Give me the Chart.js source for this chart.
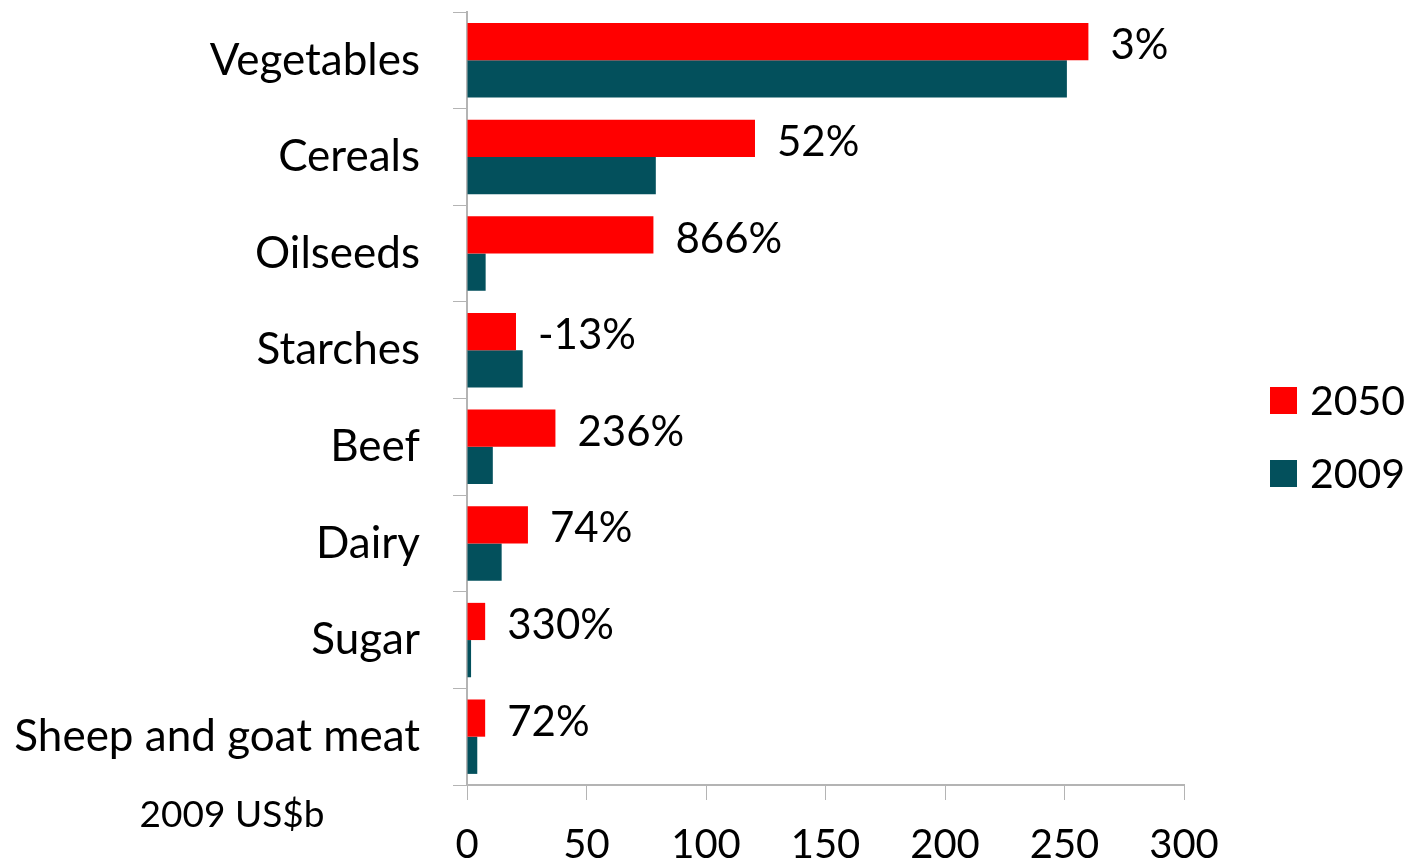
<!DOCTYPE html>
<html lang="en">
<head>
    <meta charset="UTF-8">
    <title>Food value 2009 vs 2050</title>
    <script src="https://cdn.jsdelivr.net/npm/chart.js"></script>
    <style>
        body { margin: 0; background: #fff; }
        .chart-box { width: 1410px; height: 865px; }
    </style>
</head>
<body>
    <div class="chart-box">
        <canvas id="foodChart" width="1410" height="865"></canvas>
    </div>
    <script>
        // data, US$ billions
        const categories = ['Vegetables', 'Cereals', 'Oilseeds', 'Starches', 'Beef', 'Dairy', 'Sugar', 'Sheep and goat meat'];
        const values2050 = [260, 120.5, 78, 20.5, 37, 25.5, 7.6, 7.6];
        const values2009 = [251, 79, 7.8, 23.3, 10.8, 14.5, 1.7, 4.3];
        const growthLabels = ['3%', '52%', '866%', '-13%', '236%', '74%', '330%', '72%'];
        const xTicks = [0, 50, 100, 150, 200, 250, 300];
        const unitNote = '2009 US$b';

        const FONT = 'Lato, "Open Sans", sans-serif';
        const RED = '#ff0000';
        const TEAL = '#03505c';
        const AXIS = '#b4b4b4';

        // percentage labels next to the 2050 bars + unit note + legend
        const extras = {
            id: 'extras',
            afterDatasetsDraw(chart) {
                const ctx = chart.ctx;
                const area = chart.chartArea;
                ctx.save();
                ctx.fillStyle = '#000';
                ctx.font = '42px ' + FONT;
                ctx.textAlign = 'left';
                ctx.textBaseline = 'middle';
                chart.getDatasetMeta(0).data.forEach((bar, i) => {
                    ctx.fillText(growthLabels[i], bar.x + 22, bar.y + 4);
                });

                ctx.font = '37px ' + FONT;
                ctx.textAlign = 'center';
                ctx.fillText(unitNote, area.left - 235, area.bottom + 30);

                // legend
                ctx.font = '41px ' + FONT;
                ctx.textAlign = 'left';
                const lx = area.right + 86;
                chart.data.datasets.forEach((ds, i) => {
                    const cy = 400 + i * 73;
                    ctx.fillStyle = ds.backgroundColor;
                    ctx.fillRect(lx, cy - 13, 27, 27);
                    ctx.fillStyle = '#000';
                    ctx.fillText(ds.label, lx + 40, cy + 2);
                });
                ctx.restore();
            }
        };

        new Chart(document.getElementById('foodChart'), {
            type: 'bar',
            data: {
                labels: categories,
                datasets: [
                    { label: '2050', data: values2050, backgroundColor: RED },
                    { label: '2009', data: values2009, backgroundColor: TEAL }
                ]
            },
            options: {
                indexAxis: 'y',
                responsive: false,
                animation: false,
                layout: { padding: { top: 12, right: 226, bottom: 0, left: 0 } },
                datasets: { bar: { categoryPercentage: 0.77, barPercentage: 1 } },
                plugins: {
                    legend: { display: false },
                    tooltip: { enabled: false }
                },
                scales: {
                    x: {
                        min: xTicks[0],
                        max: xTicks[xTicks.length - 1],
                        afterBuildTicks: s => { s.ticks = xTicks.map(v => ({ value: v })); },
                        afterFit: s => { s.height = 80; s.paddingLeft = 0; s.paddingRight = 0; },
                        grid: { drawOnChartArea: false, drawTicks: true, tickLength: 15, color: AXIS },
                        border: { color: AXIS, width: 2 },
                        ticks: { color: '#000', font: { family: FONT, size: 40 }, padding: 21, maxRotation: 0 }
                    },
                    y: {
                        afterFit: s => { s.width = 467; s.paddingTop = 0; s.paddingBottom = 0; },
                        grid: { drawOnChartArea: false, drawTicks: true, tickLength: 14, color: AXIS, offset: true },
                        border: { color: AXIS, width: 2 },
                        ticks: { color: '#000', font: { family: FONT, size: 44 }, padding: 33 }
                    }
                }
            },
            plugins: [extras]
        });
    </script>
</body>
</html>
